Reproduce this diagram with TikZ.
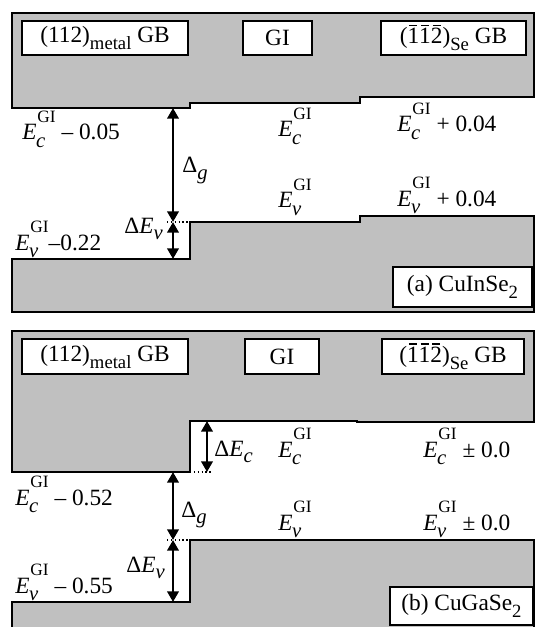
\documentclass[tikz,border=0pt]{standalone}
\usepackage{fontspec}
\setmainfont{Liberation Serif}
\usetikzlibrary{arrows.meta}
\definecolor{band}{RGB}{192,192,192}
\newcommand\mainsz{\fontsize{17.5}{20}\selectfont}
\newcommand\supsz{\fontsize{13}{14}\selectfont}
\newcommand\subc{\fontsize{15.5}{16}\selectfont}
\newcommand\lsz{\fontsize{14}{15}\selectfont}
\newcommand\EGI[1]{\textit{E}\kern-0.02em\rlap{\raisebox{-0.34em}{\subc\textit{#1}}}\kern0.06em\raisebox{0.74em}{\supsz GI}}
\newcommand\lowsub[1]{\raisebox{-0.26em}{\subc\textit{#1}}}
\newcommand\ovl[1]{\leavevmode\rlap{\kern0.08em\rule[0.76em]{0.34em}{0.06em}}#1}
\begin{document}
\begin{tikzpicture}[x=0.75pt,y=-0.75pt,
  bandst/.style={fill=band,draw=black,line width=1.8pt,line join=miter},
  boxst/.style={draw=black,fill=white,line width=1.7pt,inner sep=0pt,font=\mainsz},
  lab/.style={anchor=base west,inner sep=0pt,font=\mainsz},
  arr/.style={line width=2pt,{Triangle[length=8pt,width=8.5pt]}-{Triangle[length=8pt,width=8.5pt]}},
  dotst/.style={line width=0.9pt,dotted}]
\useasboundingbox (0,0) rectangle (536,627);
\clip (0,0) rectangle (536,627);
% ---------------- panel (a) ----------------
\draw[bandst] (12,13) -- (534,13) -- (534,97) -- (360,97) -- (360,103) -- (190,103) -- (190,108) -- (12,108) -- cycle;
\draw[bandst] (12,312) -- (12,259) -- (190,259) -- (190,222) -- (360,222) -- (360,216) -- (534,216) -- (534,312) -- cycle;
\node[boxst,minimum width=124.5pt,minimum height=25.5pt] (aL) at (105,38) {(112)\raisebox{-0.3em}{\lsz metal} GB};
\node[boxst,minimum width=51.75pt,minimum height=25.5pt] (aM) at (277.5,38) {GI};
\node[boxst,minimum width=108.75pt,minimum height=25.5pt] (aR) at (453.5,38) {(\ovl{1}\ovl{1}\ovl{2})\raisebox{-0.3em}{\lsz Se} GB};
\node[boxst,minimum width=104.25pt,minimum height=30pt] (aT) at (462.5,287) {(a) CuInSe\raisebox{-0.3em}{\lsz 2}};
\node[lab] (aEcL) at (22,140) {\EGI{c} -- 0.05};
\node[lab] (aEcM) at (278,137) {\EGI{c}};
\node[lab] (aEcR) at (397,132) {\EGI{c} + 0.04};
\node[lab] (aDg) at (182,173) {Δ\lowsub{g}};
\node[lab] (aEvM) at (278,208) {\EGI{v}};
\node[lab] (aEvR) at (397,206) {\EGI{v} + 0.04};
\node[lab] (aDEv) at (124,233) {Δ\textit{E}\lowsub{v}};
\node[lab] (aEvL) at (15,250) {\EGI{v}--0.22};
\coordinate (a1) at (173,108);
\coordinate (a2) at (173,222);
\coordinate (a3) at (173,259);
\coordinate (ad1) at (167,222);
\coordinate (ad2) at (190,222);
\draw[dotst] (ad1) -- (ad2);
\draw[arr] (a1) -- (a2);
\draw[arr] (a2) -- (a3);
% ---------------- panel (b) ----------------
\draw[bandst] (12,331) -- (534,331) -- (534,422) -- (357,422) -- (357,421) -- (190,421) -- (190,472) -- (12,472) -- cycle;
\draw[bandst] (12,640) -- (12,602) -- (190,602) -- (190,540) -- (534,540) -- (534,640) -- cycle;
\node[boxst,minimum width=124.5pt,minimum height=26.25pt] (bL) at (105,356.5) {(112)\raisebox{-0.3em}{\lsz metal} GB};
\node[boxst,minimum width=55.5pt,minimum height=26.25pt] (bM) at (282,356.5) {GI};
\node[boxst,minimum width=106.5pt,minimum height=26.25pt] (bR) at (453,356.5) {(\ovl{1}\ovl{1}\ovl{2})\raisebox{-0.3em}{\lsz Se} GB};
\node[boxst,minimum width=107.25pt,minimum height=28.5pt] (bT) at (461.5,606) {(b) CuGaSe\raisebox{-0.3em}{\lsz 2}};
\node[lab] (bEcL) at (15,505) {\EGI{c} -- 0.52};
\node[lab] (bEcM) at (278,457) {\EGI{c}};
\node[lab] (bEcR) at (423,457) {\EGI{c} ± 0.0};
\node[lab] (bDEc) at (214,456) {Δ\textit{E}\lowsub{c}};
\node[lab] (bDg) at (181,517) {Δ\lowsub{g}};
\node[lab] (bEvM) at (278,530) {\EGI{v}};
\node[lab] (bEvR) at (423,530) {\EGI{v} ± 0.0};
\node[lab] (bDEv) at (126,572) {Δ\textit{E}\lowsub{v}};
\node[lab] (bEvL) at (15,593) {\EGI{v} -- 0.55};
\coordinate (b0) at (207,421);
\coordinate (b0b) at (207,472);
\coordinate (b1) at (173,472);
\coordinate (b2) at (173,540);
\coordinate (b3) at (173,602);
\coordinate (bd1) at (190,472);
\coordinate (bd2) at (211,472);
\coordinate (bd3) at (167,540);
\coordinate (bd4) at (190,540);
\draw[dotst] (bd1) -- (bd2);
\draw[dotst] (bd3) -- (bd4);
\draw[arr] (b0) -- (b0b);
\draw[arr] (b1) -- (b2);
\draw[arr] (b2) -- (b3);
\end{tikzpicture}
\end{document}
